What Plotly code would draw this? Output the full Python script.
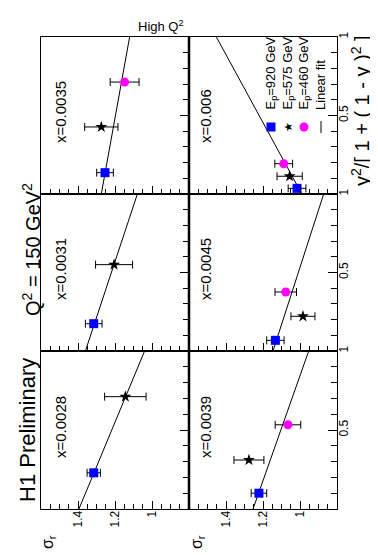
import plotly.graph_objects as go
import numpy as np

# ---------------- data ----------------
x_bins = ["0.0028", "0.0031", "0.0035", "0.0039", "0.0045", "0.006"]

# E_p = 920 GeV (blue squares): y^2/[1+(1-y)^2], sigma_r, error
ydiv_920 = [0.229, 0.174, 0.136, 0.100, 0.068, 0.036]
sig_920 = [1.315, 1.315, 1.254, 1.222, 1.133, 1.016]
err_920 = [0.036, 0.045, 0.045, 0.042, 0.047, 0.048]

# E_p = 575 GeV (black stars)
ydiv_575 = [0.711, 0.550, 0.427, 0.310, 0.221, 0.113]
sig_575 = [1.144, 1.205, 1.274, 1.276, 0.984, 1.056]
err_575 = [0.112, 0.100, 0.090, 0.081, 0.065, 0.068]

# E_p = 460 GeV (magenta circles), absent in the first two bins
ydiv_460 = [None, None, 0.713, 0.533, 0.376, 0.193]
sig_460 = [None, None, 1.148, 1.065, 1.077, 1.088]
err_460 = [None, None, 0.078, 0.069, 0.058, 0.048]

# Linear fit: sigma_r = a + b * y^2/[1+(1-y)^2]
fit_a = [1.395, 1.360, 1.274, 1.254, 1.146, 0.990]
fit_b = [-0.355, -0.281, -0.153, -0.301, -0.274, 0.462]

sig_ticks = [1.0, 1.2, 1.4]
sig_ticktext = ["1", "1.2", "1.4"]
yd_ticks = [0.0, 0.5, 1.0]
yd_ticktext = ["", "0.5", "1"]

legend_labels = ["E<sub>p</sub>=920 GeV", "E<sub>p</sub>=575 GeV",
                 "E<sub>p</sub>=460 GeV", "Linear fit"]

# ---------------- layout geometry (pixels, rotated page) ----------------
W, H = 378, 555
COLS = [(33, 181), (181, 329)]
ROWS = [(29, 186), (186, 343), (343, 501)]  # top, middle, bottom
POS = [(0, 2), (0, 1), (0, 0), (1, 2), (1, 1), (1, 0)]  # (column, row) per x bin
FONT = "Liberation Sans, Arial, sans-serif"
BLUE, MAG = "#0000ff", "#ff00ff"


def px(xp, yp):
    return xp / W, 1 - yp / H


fig = go.Figure()
layout = dict(
    width=W, height=H, margin=dict(l=0, r=0, t=0, b=0, autoexpand=False),
    paper_bgcolor="white", plot_bgcolor="rgba(0,0,0,0)", showlegend=False,
    font=dict(family=FONT, color="black"),
)

ann = []
shapes = []
for i, (c, r) in enumerate(POS):
    k = i + 1
    xs = "x" if k == 1 else f"x{k}"
    ys = "y" if k == 1 else f"y{k}"
    x0, x1 = COLS[c]
    y0, y1 = ROWS[r]
    bottom = r == 2
    right = c == 1
    layout[f"xaxis{k}"] = dict(
        domain=[x0 / W, x1 / W], anchor=ys, range=[1.6, 0.8],
        tickmode="array", tickvals=sig_ticks, ticktext=sig_ticktext,
        showticklabels=bottom, tickangle=-90, tickfont=dict(size=12),
        ticks="inside", ticklen=8, tickwidth=1, tickcolor="black",
        minor=dict(tick0=0.8, dtick=0.05, ticks="inside", ticklen=5,
                   tickwidth=1, tickcolor="black", showgrid=False),
        showline=True, linecolor="black", linewidth=1, mirror=True,
        showgrid=False, zeroline=False, fixedrange=True, ticklabelstandoff=-4,
    )
    layout[f"yaxis{k}"] = dict(
        domain=[1 - y1 / H, 1 - y0 / H], anchor=xs, range=[0, 1], side="right",
        tickmode="array", tickvals=yd_ticks, ticktext=yd_ticktext,
        showticklabels=right, tickangle=-90, tickfont=dict(size=12),
        ticks="inside", ticklen=9, tickwidth=1, tickcolor="black",
        minor=dict(tick0=0, dtick=0.1, ticks="inside", ticklen=6,
                   tickwidth=1, tickcolor="black", showgrid=False),
        showline=True, linecolor="black", linewidth=1, mirror=True,
        showgrid=False, zeroline=False, fixedrange=True, ticklabelstandoff=-4,
    )

    # fit line
    yy = np.array([0.0, 1.0])
    fig.add_trace(go.Scatter(x=fit_a[i] + fit_b[i] * yy, y=yy, mode="lines",
                             line=dict(color="black", width=1), xaxis=xs, yaxis=ys,
                             hoverinfo="skip"))
    # data series
    series = [
        (ydiv_575[i], sig_575[i], err_575[i], "star", "black", 9),
        (ydiv_460[i], sig_460[i], err_460[i], "circle", MAG, 9),
        (ydiv_920[i], sig_920[i], err_920[i], "square", BLUE, 9),
    ]
    for yd, s, e, sym, col, size in series:
        if yd is None:
            continue
        fig.add_trace(go.Scatter(
            x=[s], y=[yd], mode="markers", xaxis=xs, yaxis=ys,
            marker=dict(symbol=sym, color=col, size=size, line=dict(width=0)),
            error_x=dict(type="data", array=[e], color="black", thickness=1, width=4),
        ))

    # x-bin label
    lx = 52 if c == 0 else 197
    ax_, ay_ = px(lx, y1 - 49)
    ann.append(dict(text=f"x={x_bins[i]}", x=ax_, y=ay_, xref="paper", yref="paper",
                    xanchor="center", yanchor="bottom", textangle=-90,
                    showarrow=False, font=dict(size=15)))

# thick separating line between the two columns
shapes.append(dict(type="line", xref="paper", yref="paper",
                   x0=181 / W, x1=181 / W, y0=1 - 501 / H, y1=1 - 29 / H,
                   line=dict(color="black", width=2.5)))

# legend keys (paper-positioned glyphs)
key_x = [263, 280, 296, 313]
key_y = 119
sq = 4.5
a0, b0 = px(key_x[0] - sq, key_y + sq)
a1, b1 = px(key_x[0] + sq, key_y - sq)
shapes.append(dict(type="rect", xref="paper", yref="paper", x0=a0, y0=b0, x1=a1, y1=b1,
                   fillcolor=BLUE, line=dict(width=0)))
a0, b0 = px(key_x[2] - 4.5, key_y + 4.5)
a1, b1 = px(key_x[2] + 4.5, key_y - 4.5)
shapes.append(dict(type="circle", xref="paper", yref="paper", x0=a0, y0=b0, x1=a1, y1=b1,
                   fillcolor=MAG, line=dict(width=0)))
a0, b0 = px(key_x[3], key_y + 6)
a1, b1 = px(key_x[3], key_y - 6)
shapes.append(dict(type="line", xref="paper", yref="paper", x0=a0, y0=b0, x1=a1, y1=b1,
                   line=dict(color="black", width=1)))
sx, sy = px(key_x[1], key_y)
ann.append(dict(text="★", x=sx, y=sy, xref="paper", yref="paper", xanchor="center",
                yanchor="middle", showarrow=False,
                font=dict(size=11, family="DejaVu Sans"), textangle=-90))
for lab, kx in zip(legend_labels, key_x):
    ax_, ay_ = px(kx, 104)
    ann.append(dict(text=lab, x=ax_, y=ay_, xref="paper", yref="paper",
                    xanchor="center", yanchor="bottom", textangle=-90,
                    showarrow=False, font=dict(size=13)))


# titles and axis titles
def add_text(text, xp, yp, size, angle=-90, xa="center", ya="middle"):
    ax_, ay_ = px(xp, yp)
    ann.append(dict(text=text, x=ax_, y=ay_, xref="paper", yref="paper",
                    xanchor=xa, yanchor=ya, textangle=angle, showarrow=False,
                    font=dict(size=size)))


add_text("H1 Preliminary", 19, 422, 22)
add_text("Q<sup>2</sup> = 150 GeV<sup>2</sup>", 23, 242, 20)
add_text("High Q<sup>2</sup>", 153, 18, 13, angle=0)
add_text("y<sup>2</sup>/[ 1 + ( 1 - y )<sup>2</sup> ]", 352, 103, 20)
add_text("σ<sub>r</sub>", 40, 534, 16)
add_text("σ<sub>r</sub>", 189, 534, 16)

layout["annotations"] = ann
layout["shapes"] = shapes
fig.update_layout(**layout)
fig.write_html("out.html")
